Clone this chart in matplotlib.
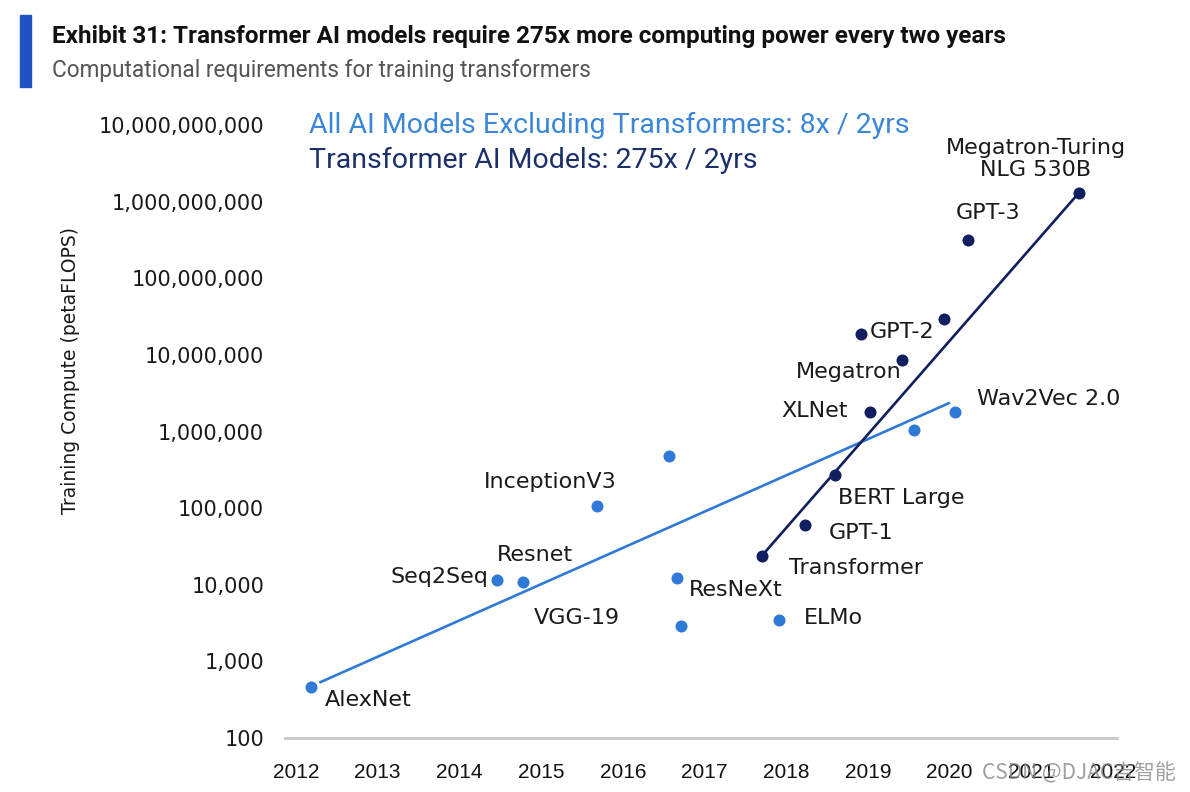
import numpy as np
import matplotlib
matplotlib.use("Agg")
import matplotlib.pyplot as plt

# non-transformer models
other_names = ["AlexNet", "Seq2Seq", "Resnet", "InceptionV3", "", "ResNeXt",
               "VGG-19", "ELMo", "", "Wav2Vec 2.0"]
other_year = [2012.18, 2014.46, 2014.78, 2015.68, 2016.57, 2016.66,
              2016.71, 2017.91, 2019.56, 2020.07]
other_flops = [463, 11600, 11000, 107000, 478000, 12300,
               2900, 3500, 1.05e6, 1.8e6]

# transformer models
tr_names = ["Transformer", "GPT-1", "BERT Large", "XLNet", "GPT-2",
            "Megatron", "", "GPT-3", "Megatron-Turing\nNLG 530B"]
tr_year = [2017.70, 2018.23, 2018.60, 2019.03, 2018.92,
           2019.42, 2019.93, 2020.22, 2021.58]
tr_flops = [23800, 60000, 270000, 1.8e6, 1.86e7,
            8.5e6, 3.0e7, 3.2e8, 1.3e9]

# trend lines (start / end)
other_trend_x = [2012.30, 2019.99]
other_trend_y = [537, 2.35e6]
tr_trend_x = [2017.70, 2021.58]
tr_trend_y = [23800, 1.3e9]

xticks = list(range(2012, 2023))
yticks = [10**k for k in range(2, 11)]

light = "#2f7ad6"
dark = "#0f1f5f"

# label offsets in pixels (dx, dy, ha)
other_off = [(14, -13, "left"), (-9, 3, "right"), (12, 27, "center"),
             (-46, 24, "center"), None, (12, -12, "left"),
             (-61, 8, "right"), (25, 2, "left"), None, (22, 13, "left")]
tr_off = [(27, -12, "left"), (24, -8, "left"), (3, -23, "left"),
          (-22, 1, "right"), (8, 2, "left"), (-1, -12, "right"), None,
          (21, 27, "center"), (-43, 34, "center")]

W, H = 1190, 792
fig = plt.figure(figsize=(W / 100, H / 100), dpi=100)
ax = fig.add_axes([285 / W, 1 - 738 / H, (1117 - 285) / W, (738 - 110) / H])

ax.set_yscale("log")
ax.set_xlim(2011.865, 2022.05)
ax.set_ylim(100, 10**10.2)

ax.plot(other_trend_x, other_trend_y, color=light, lw=1.9, zorder=2)
ax.plot(tr_trend_x, tr_trend_y, color=dark, lw=1.9, zorder=2)
ax.scatter(other_year, other_flops, s=75, color=light, zorder=3, linewidths=0)
ax.scatter(tr_year, tr_flops, s=75, color=dark, zorder=3, linewidths=0)

for names, xs, ys, offs in [(other_names, other_year, other_flops, other_off),
                            (tr_names, tr_year, tr_flops, tr_off)]:
    for n, x, y, o in zip(names, xs, ys, offs):
        if o is None:
            continue
        ax.annotate(n, (x, y), xytext=(o[0], o[1]), textcoords="offset pixels",
                    ha=o[2], va="center", fontsize=16, color="#1a1a1a",
                    family="DejaVu Sans", linespacing=1.15)

for s in ["top", "right", "left"]:
    ax.spines[s].set_visible(False)
ax.spines["bottom"].set_color("#c8c8c8")
ax.spines["bottom"].set_linewidth(2)
ax.tick_params(length=0)
ax.minorticks_off()
ax.set_yticks(yticks)
ax.set_yticklabels([f"{v:,}" for v in yticks], fontsize=15, color="#1a1a1a",
                   family="DejaVu Sans")
ax.tick_params(axis="y", pad=15)
ax.set_xticks(xticks)
ax.set_xticklabels([str(v) for v in xticks], fontsize=15, color="#111111",
                   family="Liberation Sans")
ax.tick_params(axis="x", pad=18)
ax.set_ylabel("Training Compute (petaFLOPS)", fontsize=13.5, color="#1a1a1a",
              family="DejaVu Sans")
ax.yaxis.set_label_coords(80 / W, 1 - 370 / H, transform=fig.transFigure)

# trend legend text
fig.text(309 / W, 1 - 125 / H, "All AI Models Excluding Transformers: 8x / 2yrs",
         fontsize=20.5, color="#3a86d8", family="Roboto", va="center")
fig.text(309 / W, 1 - 160 / H, "Transformer AI Models: 275x / 2yrs",
         fontsize=20.5, color="#1b2f6b", family="Roboto", va="center")

# title block
fig.patches.append(plt.Rectangle((20 / W, 1 - 87 / H), 11 / W, 72 / H,
                                 transform=fig.transFigure, color="#2152c4"))
fig.text(52 / W, 1 - 37 / H,
         "Exhibit 31: Transformer AI models require 275x more computing power every two years",
         fontsize=17.5, weight="bold", color="#111111",
         family="Roboto", va="center")
fig.text(52 / W, 1 - 70 / H, "Computational requirements for training transformers",
         fontsize=16.3, color="#555555", family="Roboto", va="center")

# watermark
fig.text(982 / W, 1 - 773 / H, "CSDN @DJAC吉智能", fontsize=15, color="#888888",
         alpha=0.8, family=["Noto Sans CJK SC", "DejaVu Sans"], va="center")

fig.savefig("out.png", dpi=100)
